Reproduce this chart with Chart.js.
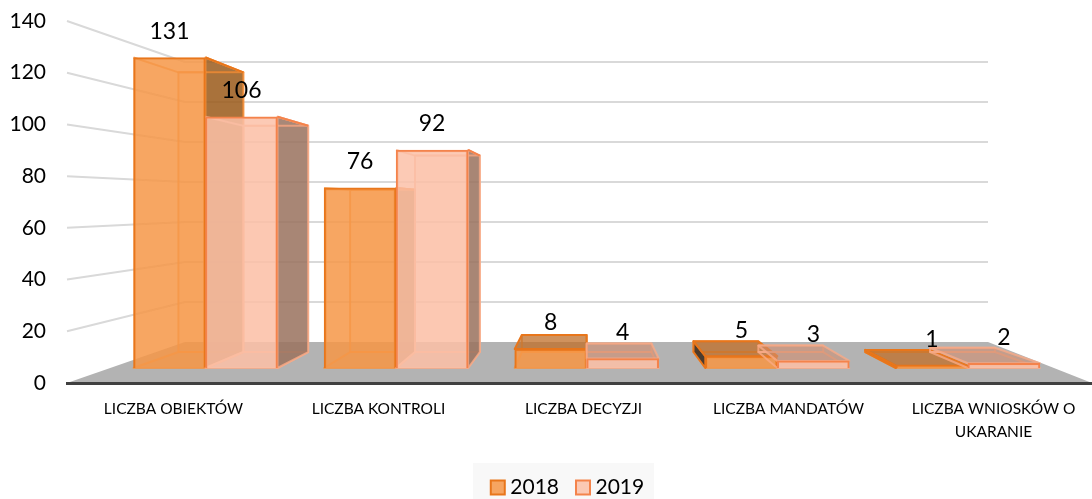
<!DOCTYPE html>
<html>
<head>
<meta charset="utf-8">
<style>html,body{margin:0;padding:0;background:#fff}canvas{display:block}</style>
<script src="https://cdn.jsdelivr.net/npm/chart.js@4"></script>
</head>
<body>
<canvas id="c" width="1092" height="499"></canvas>
<script>
const categories = ['LICZBA OBIEKTÓW','LICZBA KONTROLI','LICZBA DECYZJI','LICZBA MANDATÓW',['LICZBA WNIOSKÓW O','UKARANIE']];
const seriesNames = ['2018','2019'];
const values2018 = [131,76,8,5,1];
const values2019 = [106,92,4,3,2];
const axisMax = 140;
const axisStep = 20;

const FONT = 'Lato, Carlito, sans-serif';
const VP = {x:586.5, y:207, k:0.0992};
const proj = (x,y)=>[x+VP.k*(VP.x-x), y+VP.k*(VP.y-y)];
const styles = [
  {rear:'rgba(247,145,60,0.75)', rearFill:'rgba(240,130,40,0.12)', edge:'#E8761B',
   side:'rgba(154,92,29,0.85)', sideDark:'rgba(62,48,36,0.9)', top:'rgba(190,110,40,0.72)'},
  {rear:'rgba(247,170,135,0.8)', rearFill:'rgba(240,150,110,0.12)', edge:'#F4834B',
   side:'rgba(153,115,96,0.85)', sideDark:null, top:'rgba(205,140,112,0.55)'}
];
function poly(ctx,pts,fill,stroke,lw){
  ctx.beginPath();
  pts.forEach((p,i)=>i?ctx.lineTo(p[0],p[1]):ctx.moveTo(p[0],p[1]));
  ctx.closePath();
  if(fill){ctx.fillStyle=fill;ctx.fill();}
  if(stroke){ctx.strokeStyle=stroke;ctx.lineWidth=lw||2;ctx.lineJoin='round';ctx.stroke();}
}
const scene = {
  id:'scene',
  afterLayout(chart){
    const l=chart.legend; const dy=9, dx=24;
    l.top+=dy; l.bottom+=dy; l.left+=dx; l.right+=dx;
  },
  beforeDraw(chart){
    const ctx=chart.ctx, y=chart.scales.y, a=chart.chartArea;
    ctx.save();
    ctx.fillStyle='#f8f8f8'; ctx.fillRect(473,463,181,36);
    const back=p=>342-(a.bottom-p)*0.7735;
    poly(ctx,[[a.left,a.bottom],[a.right,a.bottom],[988,342],[185,342]],'#b3b3b3');
    y.ticks.forEach(t=>{
      if(t.value===0) return;
      const p=y.getPixelForValue(t.value);
      ctx.beginPath();ctx.moveTo(a.left,p);ctx.lineTo(185,back(p));ctx.lineTo(988,back(p));
      ctx.strokeStyle='#d9d9d9';ctx.lineWidth=2;ctx.stroke();
    });
    ctx.restore();
  },
  beforeDatasetDraw(chart,args){
    const ctx=chart.ctx, s=styles[args.index];
    ctx.save();
    args.meta.data.forEach(el=>{
      const x0=el.x-el.width/2, x1=el.x+el.width/2, yt=el.y, yb=el.base;
      const rTL=proj(x0,yt), rTR=proj(x1,yt), rBL=proj(x0,yb), rBR=proj(x1,yb);
      poly(ctx,[rTL,rTR,rBR,rBL],s.rearFill,s.rear,2);
      poly(ctx,[[x0,yb],[x1,yb],rBR,rBL],s.rearFill,s.rear,2);
      if(x1<VP.x-2) poly(ctx,[[x1,yt],rTR,rBR,[x1,yb]],s.side,s.rear,2);
      if(x0>VP.x+2 && s.sideDark) poly(ctx,[[x0,yt],rTL,rBL,[x0,yb]],s.sideDark,s.edge,2);
      if(rTL[1]<yt-0.5) poly(ctx,[[x0,yt],[x1,yt],rTR,rTL],s.top,s.sideDark?s.edge:s.rear,2);
      else {
        ctx.beginPath();ctx.moveTo(x0,yt);ctx.lineTo(rTL[0],rTL[1]);ctx.lineTo(rTR[0],rTR[1]);ctx.lineTo(x1,yt);
        ctx.strokeStyle=s.rear;ctx.lineWidth=2;ctx.stroke();
        if(x1<VP.x-2){ctx.beginPath();ctx.moveTo(x1,yt);ctx.lineTo(rTR[0],rTR[1]);ctx.strokeStyle=s.edge;ctx.stroke();}
      }
    });
    ctx.restore();
  },
  afterDatasetsDraw(chart){
    const ctx=chart.ctx;
    ctx.save();
    ctx.font='23px '+FONT;ctx.fillStyle='#000';ctx.textAlign='center';ctx.textBaseline='middle';
    chart.data.datasets.forEach((ds,i)=>{
      chart.getDatasetMeta(i).data.forEach((el,j)=>{
        ctx.fillText(String(ds.data[j].y),el.x,el.y-26);
      });
    });
    ctx.restore();
  }
};
const toPoints = arr => arr.map((v,i)=>({x:i,y:v}));
const STEP=190.6, BAR=72, FIRST=205.5, L=67, R=1092;
const frontAxis = shift => ({type:'linear',display:false,offset:false,grid:{display:false},
  min:-(FIRST+shift-L)/STEP, max:(R-FIRST-shift)/STEP});
new Chart(document.getElementById('c'),{
  type:'bar',
  plugins:[scene],
  data:{
    labels:categories,
    datasets:[
      {label:seriesNames[0],data:toPoints(values2018),order:2,xAxisID:'xFrontA',yAxisID:'yFront',grouped:false,
       backgroundColor:'rgba(246,150,70,0.85)',borderColor:'#E8761B',borderWidth:2,barThickness:BAR},
      {label:seriesNames[1],data:toPoints(values2019),order:1,xAxisID:'xFrontB',yAxisID:'yFront',grouped:false,
       backgroundColor:'rgba(251,193,168,0.85)',borderColor:'#F4834B',borderWidth:2,barThickness:BAR}
    ]
  },
  options:{
    responsive:false,animation:false,
    layout:{padding:{top:21,left:0,right:0,bottom:0}},
    scales:{
      x:{type:'category',position:'bottom',offset:true,
         grid:{display:false,drawTicks:false},
         border:{display:true,color:'#404040',width:3},
         afterFit:s=>{s.height=63;},
         ticks:{autoSkip:false,maxRotation:0,minRotation:0,padding:15,labelOffset:4,color:'#000',font:{family:FONT,size:15.5,lineHeight:1.48}}},
      y:{type:'linear',position:'left',min:0,max:axisMax,
         grid:{display:false,drawTicks:false},border:{display:false},
         afterFit:s=>{s.width=67;s.paddingTop=0;s.paddingBottom=0;},
         ticks:{stepSize:axisStep,padding:21,color:'#000',font:{family:FONT,size:21}}},
      xFrontA:frontAxis(-BAR/2),
      xFrontB:frontAxis(BAR/2),
      yFront:{type:'linear',display:false,grid:{display:false},
         min:-(383-368)/2.37,max:(368-21)/2.37}
    },
    plugins:{
      tooltip:{enabled:false},
      legend:{position:'bottom',
        labels:{usePointStyle:true,pointStyle:'rect',boxWidth:4,boxHeight:14,padding:22,color:'#000',font:{family:FONT,size:21},
          sort:(a,b)=>a.datasetIndex-b.datasetIndex}}
    }
  }
});
</script>
</body>
</html>
